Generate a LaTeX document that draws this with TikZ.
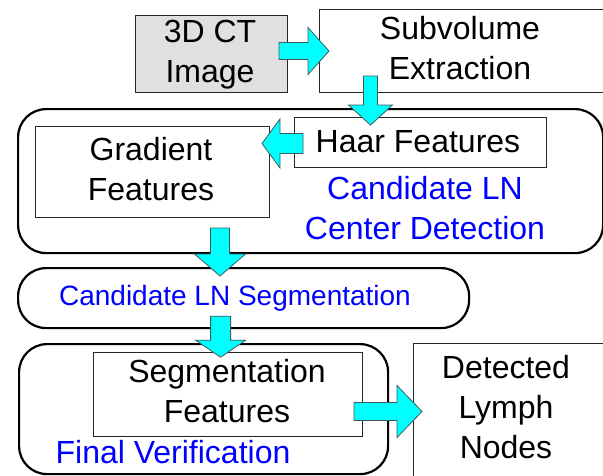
\documentclass[tikz,border=0pt]{standalone}
\usepackage{fontspec}
\setmainfont{Liberation Sans}
\usetikzlibrary{calc}
\definecolor{arrcyan}{RGB}{0,255,255}
\definecolor{arredge}{RGB}{60,90,90}
\definecolor{ctgray}{RGB}{224,224,224}
\definecolor{lnblue}{RGB}{0,0,255}
\newcommand\blockarrow[6]{%
  \begin{scope}[shift={#1}, rotate=#2]
    \draw[arr] (0,-#4) -- ({#3-#6},-#4) -- ({#3-#6},-#5) -- (#3,0) -- ({#3-#6},#5) -- ({#3-#6},#4) -- (0,#4) -- cycle;
  \end{scope}}
\begin{document}
\begin{tikzpicture}[x=1pt,y=-1pt,
  box/.style={draw=black!85, line width=1pt, fill=white, inner sep=0, anchor=north west},
  group/.style={draw=black, line width=2.2pt, rounded corners=28pt, fill=white, inner sep=0, anchor=north west},
  lbl/.style={font=\fontsize{32}{40}\selectfont, align=center, anchor=base, inner sep=0},
  blu/.style={lbl, text=lnblue},
  arr/.style={fill=arrcyan, draw=arredge, line width=0.8pt, line join=miter}]
\useasboundingbox (0,0) rectangle (603,475);
% groups
\node[group, minimum width=585, minimum height=144] (detgrp) at (17,108) {};
\node[group, minimum width=451, minimum height=60] (seggrp) at (17,267) {};
\node[group, minimum width=369, minimum height=130] (fingrp) at (18,343) {};
% boxes
\node[box, fill=ctgray, minimum width=152, minimum height=77] (ct) at (135,15) {};
\node[box, minimum width=300, minimum height=83] (sub) at (319,9) {};
\node[box, minimum width=252, minimum height=50] (haar) at (294,117) {};
\node[box, minimum width=234, minimum height=91] (grad) at (35,126) {};
\node[box, minimum width=269, minimum height=84] (segfeat) at (93,352) {};
\node[box, minimum width=200, minimum height=140] (lymph) at (413,343) {};
% block arrows
\blockarrow{($(ct.east)+(-9,-3)$)}{0}{50}{8.5}{23.5}{21}
\blockarrow{($(haar.north)+(-50,-41)$)}{-90}{49}{7}{22}{20}
\blockarrow{($(haar.west)+(9,1)$)}{180}{41}{10}{24.5}{18}
\blockarrow{($(grad.south)+(67.5,10)$)}{-90}{48}{9.5}{25.5}{22}
\blockarrow{($(seggrp.south)+(-23,-13)$)}{-90}{41}{10}{25}{17}
\blockarrow{($(segfeat.east)+(-9,17)$)}{0}{68}{9}{26}{25}
% labels (base = baseline of last line)
\node[lbl] (tct) at (210,82) {3D CT\\Image};
\node[lbl] (tsub) at (460,79) {Subvolume\\Extraction};
\node[lbl] (thaar) at (418,152) {Haar Features};
\node[lbl] (tgrad) at (151,200) {Gradient\\Features};
\node[blu] (tdet) at (425,239) {Candidate LN\\Center Detection};
\node[blu, font=\fontsize{28}{34}\selectfont] (tseg) at (235,305) {Candidate LN Segmentation};
\node[lbl] (tsegf) at (227,422) {Segmentation\\Features};
\node[blu] (tfin) at (173,463) {Final Verification};
\node[lbl] (tlymph) at (506,458) {Detected\\Lymph\\Nodes};
\end{tikzpicture}
\end{document}
